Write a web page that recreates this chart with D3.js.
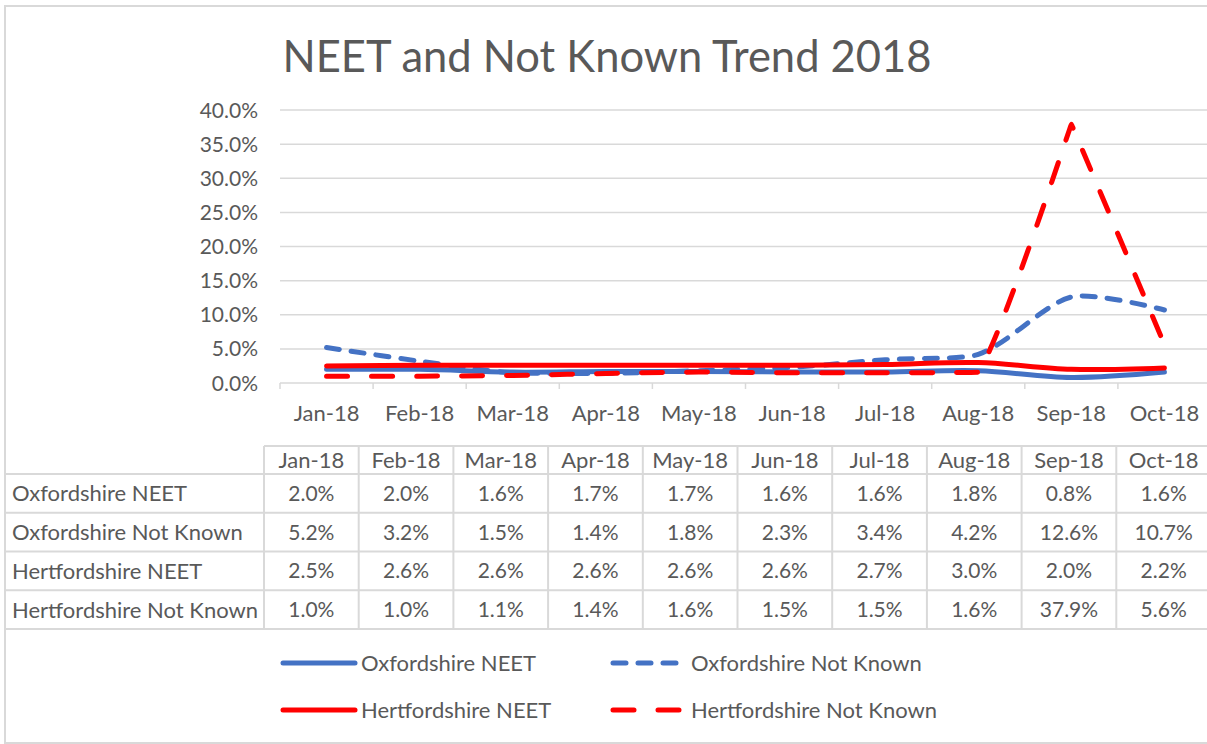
<!DOCTYPE html>
<html>
<head>
<meta charset="utf-8">
<script src="https://cdn.jsdelivr.net/npm/d3@7"></script>
<style>
  body { margin: 0; background: #fff; }
  svg text { font-family: Lato, "Open Sans", sans-serif; fill: #595959; }
</style>
</head>
<body>
<div id="chart"></div>
<script>
// data (percent values)
var months = ["Jan-18", "Feb-18", "Mar-18", "Apr-18", "May-18", "Jun-18", "Jul-18", "Aug-18", "Sep-18", "Oct-18"];
var oxon_neet = [2.0, 2.0, 1.6, 1.7, 1.7, 1.6, 1.6, 1.8, 0.8, 1.6];
var oxon_not_known = [5.2, 3.2, 1.5, 1.4, 1.8, 2.3, 3.4, 4.2, 12.6, 10.7];
var herts_neet = [2.5, 2.6, 2.6, 2.6, 2.6, 2.6, 2.7, 3.0, 2.0, 2.2];
var herts_not_known = [1.0, 1.0, 1.1, 1.4, 1.6, 1.5, 1.5, 1.6, 37.9, 5.6];
var y_ticks = [0, 5, 10, 15, 20, 25, 30, 35, 40];

var series = [
    { name: "Oxfordshire NEET", values: oxon_neet, color: "#4472C4", dash: null },
    { name: "Oxfordshire Not Known", values: oxon_not_known, color: "#4472C4", dash: "13,12" },
    { name: "Hertfordshire NEET", values: herts_neet, color: "#FF0000", dash: null },
    { name: "Hertfordshire Not Known", values: herts_not_known, color: "#FF0000", dash: "21,24" }
];

const WIDTH = 1207;
const HEIGHT = 744;
const GRID = "#d9d9d9";
const LINE_SIZE = 5;
const NUM_FONT = 21;
const TEXT_FONT = 22;

var svg = d3.select("#chart")
    .append("svg")
        .attr("width", WIDTH)
        .attr("height", HEIGHT);

// chart border (the right side runs off the picture)
svg.append("rect")
    .attr("x", 5)
    .attr("y", 6)
    .attr("width", 1210)
    .attr("height", 737)
    .attr("fill", "#fff")
    .attr("stroke", GRID)
    .attr("stroke-width", 2);

svg.append("text")
    .attr("x", 607)
    .attr("y", 72)
    .attr("text-anchor", "middle")
    .attr("font-size", 43.5)
    .text("NEET and Not Known Trend 2018");

// plot area
var x = d3.scaleBand()
    .domain(months)
    .range([280, 1211]);

var y = d3.scaleLinear()
    .domain([0, 40])
    .range([383, 110]);

svg.append("g")
    .selectAll("line")
    .data(y_ticks)
    .enter()
    .append("line")
        .attr("x1", x.range()[0])
        .attr("x2", x.range()[1])
        .attr("y1", function (d) { return y(d); })
        .attr("y2", function (d) { return y(d); })
        .attr("stroke", GRID)
        .attr("stroke-width", 1.5);

svg.append("g")
    .selectAll("text")
    .data(y_ticks)
    .enter()
    .append("text")
        .attr("x", 258)
        .attr("y", function (d) { return y(d); })
        .attr("dy", "0.36em")
        .attr("text-anchor", "end")
        .attr("font-size", NUM_FONT)
        .text(function (d) { return d.toFixed(1) + "%"; });

// category tick marks between bands
svg.append("g")
    .selectAll("line")
    .data(months)
    .enter()
    .append("line")
        .attr("x1", function (d) { return x(d); })
        .attr("x2", function (d) { return x(d); })
        .attr("y1", y(0))
        .attr("y2", y(0) + 6)
        .attr("stroke", GRID)
        .attr("stroke-width", 1.5);

svg.append("g")
    .selectAll("text")
    .data(months)
    .enter()
    .append("text")
        .attr("x", function (d) { return x(d) + x.bandwidth() / 2; })
        .attr("y", 413)
        .attr("dy", "0.36em")
        .attr("text-anchor", "middle")
        .attr("font-size", TEXT_FONT)
        .text(function (d) { return d; });

// smoothed line, close to what Excel does: tangents split by segment length,
// shortened at sharp corners and kept from overshooting the neighbour point
function smooth_path(values) {
    var pts = values.map(function (v, i) { return [x(months[i]) + x.bandwidth() / 2, y(v)]; });
    var n = pts.length;
    var c_in = [], c_out = [];
    for (var i = 0; i < n; i++) {
        if (i == 0 || i == n - 1) {
            c_in.push(pts[i]);
            c_out.push(pts[i]);
            continue;
        }
        var p0 = pts[i - 1], p1 = pts[i], p2 = pts[i + 1];
        var v0 = [p0[0] - p1[0], p0[1] - p1[1]], v2 = [p2[0] - p1[0], p2[1] - p1[1]];
        var d01 = Math.hypot(v0[0], v0[1]);
        var d12 = Math.hypot(v2[0], v2[1]);
        var cos = (v0[0] * v2[0] + v0[1] * v2[1]) / (d01 * d12);
        var k = Math.pow((1 - cos) / 2, 2);
        var tx = p2[0] - p0[0], ty = p2[1] - p0[1];
        var a = k * d01 / (d01 + d12) / 3, b = k * d12 / (d01 + d12) / 3;
        // no overshoot in y past the neighbours
        if (Math.abs(ty * a) > Math.abs(v0[1])) a *= Math.abs(v0[1]) / Math.abs(ty * a);
        if (Math.abs(ty * b) > Math.abs(v2[1])) b *= Math.abs(v2[1]) / Math.abs(ty * b);
        c_in.push([p1[0] - tx * a, p1[1] - ty * a]);
        c_out.push([p1[0] + tx * b, p1[1] + ty * b]);
    }
    var path = d3.path();
    path.moveTo(pts[0][0], pts[0][1]);
    for (var j = 1; j < n; j++) {
        path.bezierCurveTo(c_out[j - 1][0], c_out[j - 1][1], c_in[j][0], c_in[j][1], pts[j][0], pts[j][1]);
    }
    return path.toString();
}

svg.append("g")
    .selectAll("path")
    .data(series)
    .enter()
    .append("path")
        .attr("d", function (d) { return smooth_path(d.values); })
        .attr("fill", "none")
        .attr("stroke", function (d) { return d.color; })
        .attr("stroke-width", LINE_SIZE)
        .attr("stroke-linecap", "round")
        .attr("stroke-dasharray", function (d) { return d.dash; });

// data table
var col = d3.scaleBand()
    .domain(months)
    .range([264, 1211]);

var row = d3.scaleBand()
    .domain(series.map(function (d) { return d.name; }))
    .range([474, 629]);

var table = svg.append("g");

table.append("line")
    .attr("x1", col.range()[0]).attr("x2", col.range()[1])
    .attr("y1", 446).attr("y2", 446)
    .attr("stroke", GRID).attr("stroke-width", 2);

table.selectAll("line.h")
    .data([474].concat(row.domain().map(function (d) { return row(d) + row.bandwidth(); })))
    .enter()
    .append("line")
        .attr("class", "h")
        .attr("x1", 5)
        .attr("x2", col.range()[1])
        .attr("y1", function (d) { return d; })
        .attr("y2", function (d) { return d; })
        .attr("stroke", GRID)
        .attr("stroke-width", 2);

table.selectAll("line.v")
    .data(months)
    .enter()
    .append("line")
        .attr("class", "v")
        .attr("x1", function (d) { return col(d); })
        .attr("x2", function (d) { return col(d); })
        .attr("y1", 446)
        .attr("y2", 629)
        .attr("stroke", GRID)
        .attr("stroke-width", 2);

table.selectAll("text.head")
    .data(months)
    .enter()
    .append("text")
        .attr("class", "head")
        .attr("x", function (d) { return col(d) + col.bandwidth() / 2; })
        .attr("y", 460)
        .attr("dy", "0.36em")
        .attr("text-anchor", "middle")
        .attr("font-size", TEXT_FONT)
        .text(function (d) { return d; });

var rows = table.selectAll("g.row")
    .data(series)
    .enter()
    .append("g")
        .attr("class", "row")
        .attr("transform", function (d) { return "translate(0," + (row(d.name) + row.bandwidth() / 2) + ")"; });

rows.append("text")
    .attr("x", 12)
    .attr("dy", "0.36em")
    .attr("font-size", TEXT_FONT)
    .text(function (d) { return d.name; });

rows.selectAll("text.val")
    .data(function (d) { return d.values; })
    .enter()
    .append("text")
        .attr("class", "val")
        .attr("x", function (d, i) { return col(months[i]) + col.bandwidth() / 2; })
        .attr("dy", "0.36em")
        .attr("text-anchor", "middle")
        .attr("font-size", NUM_FONT)
        .text(function (d) { return d.toFixed(1) + "%"; });

// legend, two by two
var legend = svg.append("g")
    .selectAll("g")
    .data(series)
    .enter()
    .append("g")
        .attr("transform", function (d, i) {
            return "translate(" + [283, 613][i % 2] + "," + [663, 710][Math.floor(i / 2)] + ")";
        });

legend.append("line")
    .attr("x1", 0)
    .attr("x2", 72)
    .attr("stroke", function (d) { return d.color; })
    .attr("stroke-width", LINE_SIZE)
    .attr("stroke-linecap", "round")
    .attr("stroke-dasharray", function (d) { return d.dash; });

legend.append("text")
    .attr("x", 78)
    .attr("dy", "0.36em")
    .attr("font-size", TEXT_FONT)
    .text(function (d) { return d.name; });
</script>
</body>
</html>
